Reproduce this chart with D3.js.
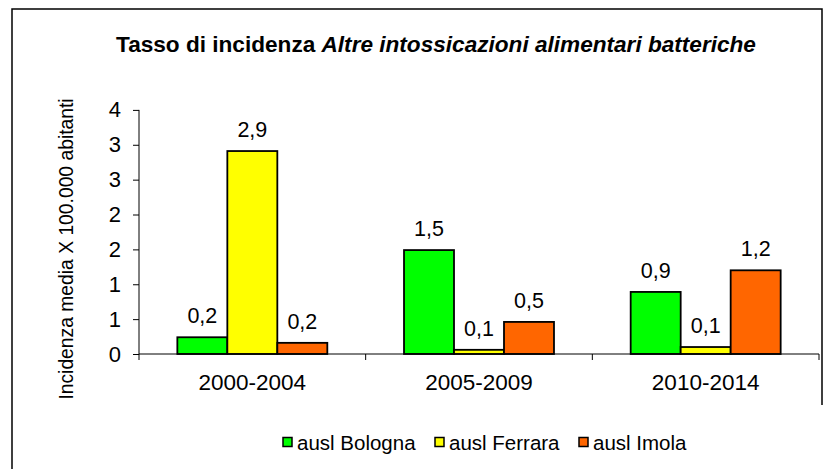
<!DOCTYPE html>
<html>
<head>
<meta charset="utf-8">
<script src="https://cdn.jsdelivr.net/npm/d3@7"></script>
<style>
  html, body { margin: 0; padding: 0; background: #fff; }
  svg { display: block; font-family: "Liberation Sans", Arial, sans-serif; }
</style>
</head>
<body>
<svg id="chart" width="830" height="469"></svg>
<script>
const categories = ["2000-2004", "2005-2009", "2010-2014"];
const seriesNames = ["ausl Bologna", "ausl Ferrara", "ausl Imola"];
const bologna = [0.24, 1.49, 0.89];
const ferrara = [2.91, 0.06, 0.10];
const imola = [0.16, 0.46, 1.20];
const seriesColors = ["#00FF00", "#FFFF00", "#FF6600"];
const yTickValues = [0, 0.5, 1, 1.5, 2, 2.5, 3, 3.5];
const yTickLabels = ["0", "1", "1", "2", "2", "3", "3", "4"];
const titleNormal = "Tasso di incidenza ";
const titleItalic = "Altre intossicazioni alimentari batteriche";
const yTitle = "Incidenza media X 100.000 abitanti";

const seriesValues = [bologna, ferrara, imola];
const svg = d3.select("#chart");

// frame (left, top, right)
svg.append("path").attr("d", "M12,469V9H822V405")
  .attr("fill", "none").attr("stroke", "#000").attr("stroke-width", 1.5);

const x0 = 139, x1 = 819, yBase = 354, yTop = 109.9;
const x = d3.scaleBand().domain(categories).range([x0, x1]).padding(0);
const xs = d3.scaleBand().domain(seriesNames).range([0, x.bandwidth()]).paddingInner(0).paddingOuter(0.767);
const y = d3.scaleLinear().domain([0, 3.5]).range([yBase, yTop]);

const fmt = d3.formatLocale({decimal: ",", thousands: ".", grouping: [3], currency: ["", "€"]}).format(".1f");

// title
const title = svg.append("text").attr("x", 436).attr("y", 52).attr("text-anchor", "middle")
  .attr("font-size", 22.6).attr("font-weight", "bold").attr("fill", "#000");
title.append("tspan").text(titleNormal);
title.append("tspan").attr("font-style", "italic").text(titleItalic);

// y axis title
svg.append("text").attr("transform", "translate(73,249) rotate(-90)")
  .attr("text-anchor", "middle").attr("font-size", 19.3).attr("fill", "#000").text(yTitle);

// bars
const data = [];
categories.forEach((c, i) => seriesNames.forEach((s, j) => data.push({c, s, v: seriesValues[j][i], color: seriesColors[j]})));

svg.append("g").selectAll("rect").data(data).join("rect")
  .attr("x", d => x(d.c) + xs(d.s))
  .attr("y", d => y(d.v))
  .attr("width", xs.bandwidth())
  .attr("height", d => yBase - y(d.v))
  .attr("fill", d => d.color)
  .attr("stroke", "#000").attr("stroke-width", 1.8);

// value labels
svg.append("g").selectAll("text").data(data).join("text")
  .attr("x", d => x(d.c) + xs(d.s) + xs.bandwidth() / 2)
  .attr("y", d => y(d.v) - 14)
  .attr("text-anchor", "middle").attr("font-size", 21.5).attr("fill", "#000")
  .text(d => fmt(d.v));

// y axis
const yAxis = d3.axisLeft(y).tickValues(yTickValues).tickSize(6).tickPadding(12)
  .tickFormat((d, i) => yTickLabels[i]);
const gy = svg.append("g").attr("transform", `translate(${x0},0)`).call(yAxis);
gy.select(".domain").attr("d", `M0,${yTop}V${yBase + 6}`).attr("stroke", "#000").attr("stroke-width", 1);
gy.selectAll(".tick line").attr("stroke", "#000");
gy.selectAll(".tick text").attr("font-size", 22).attr("font-family", "Liberation Sans, Arial, sans-serif").attr("fill", "#000");

// x axis
const boundaries = categories.map(c => x(c) + x.bandwidth());
const gx = svg.append("g");
gx.append("line").attr("x1", x0).attr("x2", x1).attr("y1", yBase).attr("y2", yBase).attr("stroke", "#000");
gx.selectAll("line.tk").data(boundaries).join("line").attr("class", "tk")
  .attr("x1", d => d).attr("x2", d => d).attr("y1", yBase).attr("y2", yBase + 6).attr("stroke", "#000");
gx.selectAll("text").data(categories).join("text")
  .attr("x", d => x(d) + x.bandwidth() / 2).attr("y", 389.5)
  .attr("text-anchor", "middle").attr("font-size", 22.5).attr("fill", "#000").text(d => d);

// legend
const legendX = [283, 435, 579];
const lg = svg.append("g").selectAll("g").data(seriesNames).join("g")
  .attr("transform", (d, i) => `translate(${legendX[i]},0)`);
lg.append("rect").attr("x", 0).attr("y", 437.5).attr("width", 9).attr("height", 9)
  .attr("fill", (d, i) => seriesColors[i]).attr("stroke", "#000").attr("stroke-width", 1.5);
lg.append("text").attr("x", 14).attr("y", 449.5).attr("font-size", 20.5).attr("fill", "#000").text(d => d);
</script>
</body>
</html>
